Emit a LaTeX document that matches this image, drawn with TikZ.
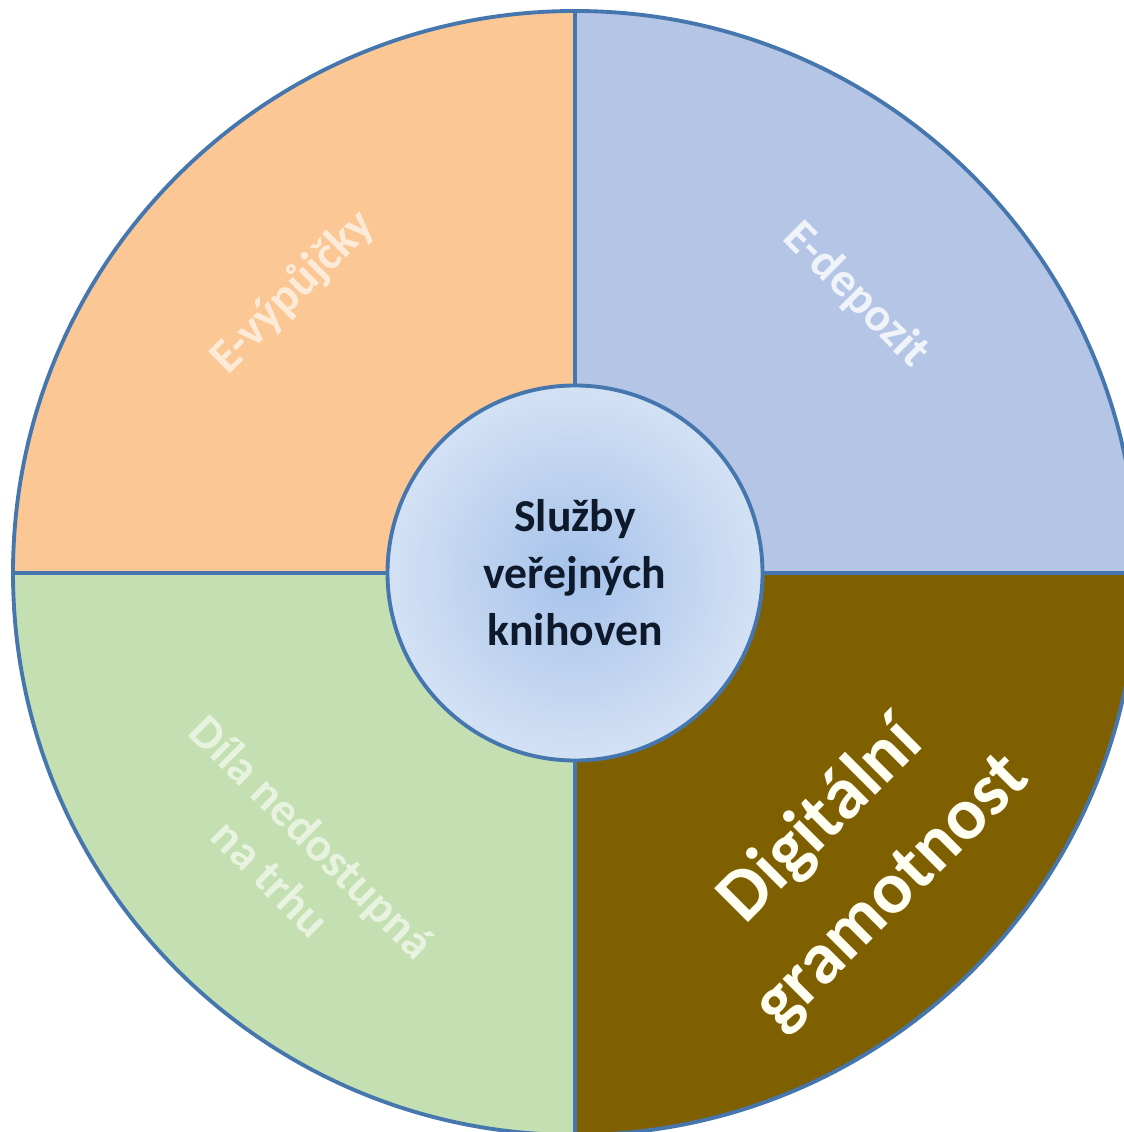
\documentclass[tikz,border=0pt]{standalone}
\usepackage{fontspec}
\setmainfont{Carlito}
\usepackage{tikz}
\usetikzlibrary{calc}
\definecolor{rimblue}{HTML}{4676AE}
\definecolor{orangefill}{HTML}{FBC895}
\definecolor{bluefill}{HTML}{B4C5E5}
\definecolor{greenfill}{HTML}{C4DFB1}
\definecolor{brownfill}{HTML}{7F6000}
\definecolor{hubinner}{HTML}{A6C2EA}
\definecolor{hubouter}{HTML}{D3E1F4}
\definecolor{hubtext}{HTML}{0E1A2C}

\begin{document}
\begin{tikzpicture}
[sectordecorate/.style={draw=rimblue,line width=1.1pt,line join=round},%
  hubdecorate/.style={shape=circle,minimum size=3.75cm,draw=rimblue,line width=1.1pt,
    inner color=hubinner,outer color=hubouter,text=hubtext,align=center,
    font=\bfseries\fontsize{13}{16.2}\selectfont},
  labeldecorate/.style={align=center,text=white,font=\bfseries\fontsize{13.5}{16.5}\selectfont}]
\useasboundingbox (0,0) rectangle (11.24,11.32);
\clip (0,0) rectangle (11.24,11.32);
\coordinate (c) at (5.75,5.59);
%% quarters of the ring
\foreach \quartername/\start/\fillcol in {depozit/0/bluefill, vypujcky/90/orangefill,
  dila/180/greenfill, gramotnost/270/brownfill}
{
  \filldraw[sectordecorate,fill=\fillcol] (c) -- ++(\start:5.62)
    arc[start angle=\start,end angle=\start+90,radius=5.62] -- cycle;
}
%% hub in the middle
\node (hub) at (c) [hubdecorate] {Služby\\veřejných\\knihoven};
%% labels of the quarters
\foreach \nodename/\x/\y/\angle/\fade/\labeltext in {evyp/2.93/8.40/45/0.65/{E-výpůjčky},
  edep/8.56/8.37/-45/0.8/{E-depozit}, dila/2.92/2.75/-45/0.6/{Díla nedostupná\\na trhu}}
{
  \node (\nodename) at (\x,\y) [labeldecorate,rotate=\angle,text opacity=\fade] {\labeltext};
}
\node (digi) at (8.57,2.75) [labeldecorate,rotate=45,text=white!95!yellow,
  font=\bfseries\fontsize{21}{28.5}\selectfont] {Digitální\\gramotnost};
\end{tikzpicture}
\end{document}
